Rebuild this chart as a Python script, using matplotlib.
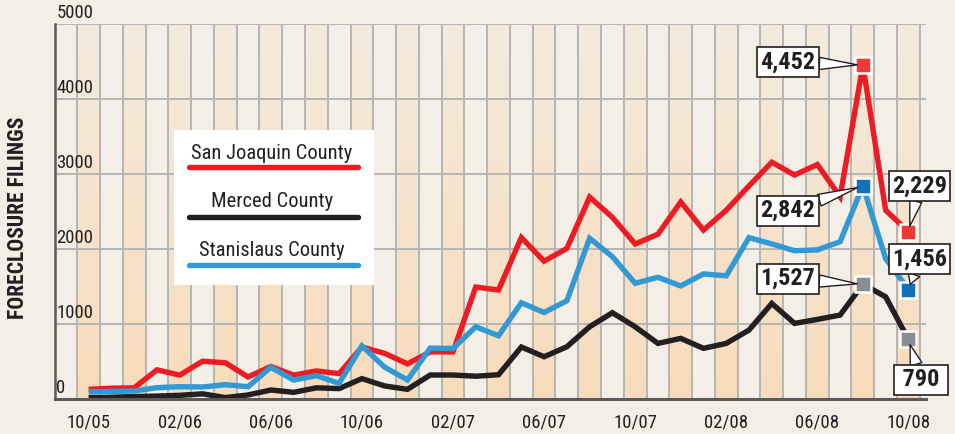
import numpy as np
import matplotlib
matplotlib.use("Agg")
import matplotlib.pyplot as plt
from matplotlib.colors import LinearSegmentedColormap
from matplotlib.patches import Rectangle
from matplotlib.lines import Line2D

NARROW = ["Roboto Condensed", "Liberation Sans Narrow", "Roboto", "DejaVu Sans"]

# monthly filings, 10/05 .. 10/08
tick_labels = ["10/05", "02/06", "06/06", "10/06", "02/07", "06/07",
               "10/07", "02/08", "06/08", "10/08"]
san_joaquin = [125, 140, 145, 385, 315, 500, 480, 290, 430, 315, 370, 335, 690,
               605, 465, 625, 625, 1490, 1450, 2150, 1835, 2005, 2690, 2420, 2065,
               2195, 2625, 2250, 2515, 2840, 3155, 2985, 3125, 2695, 4452, 2515, 2229]
merced = [13, 20, 28, 35, 45, 65, 15, 50, 116, 85, 145, 135, 268,
          170, 125, 316, 316, 300, 320, 690, 560, 693, 960, 1147, 960,
          738, 805, 672, 738, 916, 1271, 1005, 1058, 1116, 1527, 1360, 790]
stanislaus = [90, 98, 103, 147, 160, 156, 187, 160, 419, 249, 307, 205, 705,
              420, 250, 675, 670, 960, 840, 1280, 1150, 1307, 2140, 1895, 1540,
              1620, 1505, 1665, 1640, 2150, 2065, 1975, 1985, 2095, 2842, 1870, 1456]
names = ["San Joaquin County", "Merced County", "Stanislaus County"]

BG, PEACH, GRID, AXIS = "#f3efe7", "#f8dcbb", "#b5b5b5", "#5a5a5a"
RED, BLACK, BLUE = "#ed1c24", "#231f20", "#3399d5"
RED_M, BLUE_M, GREY_M = "#ee3a36", "#1370bb", "#8c8d90"
INK = "#231f20"

fig = plt.figure(figsize=(9.55, 4.34), dpi=100, facecolor=BG)
ax = fig.add_axes([54.5 / 955, 35.3 / 434, 871 / 955, 374.7 / 434])
ax.set_facecolor(BG)
n = len(san_joaquin)
x = np.arange(n)

# shaded month columns, fading toward the top
grad = np.linspace(0, 1, 256).reshape(-1, 1)
cmap = LinearSegmentedColormap.from_list("stripe", [PEACH, "#f4ebdd"])
for k in range(0, n, 2):
    ax.imshow(grad, extent=(k - 0.5, k + 0.5, 0, 5000), origin="lower",
              cmap=cmap, aspect="auto", zorder=0, interpolation="bilinear")

ax.vlines(np.arange(-0.5, n), 0, 5000, color=GRID, lw=1.4, zorder=1)
ax.hlines(np.arange(1000, 5001, 1000), -1.5, n - 0.25, color=GRID, lw=1.4, zorder=1)
ax.set_xlim(-1.5, n - 0.25)
ax.set_ylim(0, 5000)

for s in ("top", "right"):
    ax.spines[s].set_visible(False)
ax.spines["left"].set_color(AXIS); ax.spines["left"].set_linewidth(1.8)
ax.spines["bottom"].set_color(AXIS); ax.spines["bottom"].set_linewidth(2.2)
ax.spines["left"].set_zorder(2); ax.spines["bottom"].set_zorder(6)

ax.set_yticks([])
for v in range(0, 5001, 1000):
    ax.text(-1.42, v + 25, str(v), ha="left", va="bottom", fontsize=13.5,
            family=NARROW, color=INK)
ax.set_xticks(x[::4], tick_labels)
ax.tick_params(axis="x", length=0, pad=10.5, labelsize=13.5, labelcolor=INK)
for lab in ax.get_xticklabels():
    lab.set_family(NARROW)

ax.set_ylabel("FORECLOSURE FILINGS", family=NARROW, fontweight="bold",
              fontsize=15.5, color=INK)
ax.yaxis.set_label_coords(-0.029, 0.482)

series = [(san_joaquin, RED, RED_M), (merced, BLACK, GREY_M), (stanislaus, BLUE, BLUE_M)]
for vals, color, _ in series:
    ax.plot(x, vals, color=color, lw=3.9, solid_joinstyle="miter",
            solid_capstyle="butt", zorder=3, clip_on=False)

# legend panel
ax.add_patch(Rectangle((0.137, 0.3034), 0.230, 0.4136, transform=ax.transAxes,
                       facecolor="white", edgecolor="none", zorder=4))
for (vals, color, _), name, ty, ly in zip(series, names,
                                          [0.6557, 0.5276, 0.3968],
                                          [0.6184, 0.4850, 0.3562]):
    ax.text(0.2497, ty, name, transform=ax.transAxes, ha="center", va="center",
            fontsize=14.8, family=NARROW, color=INK, zorder=5)
    ax.add_line(Line2D([0.1544, 0.3485], [ly, ly], transform=ax.transAxes,
                       color=color, lw=3.9, solid_capstyle="round", zorder=5))

# highlighted values: peak month and latest month
peak = 34
last = n - 1
callouts = [
    (san_joaquin, RED_M, peak, (-54, 2)),
    (stanislaus, BLUE_M, peak, (-54, -18)),
    (merced, GREY_M, peak, (-54, 4)),
    (san_joaquin, RED_M, last, (8, 33)),
    (stanislaus, BLUE_M, last, (8, 22)),
    (merced, GREY_M, last, (9, -29)),
]
for vals, mcol, i, off in callouts:
    ax.plot(i, vals[i], marker="s", ms=11.5, mfc=mcol, mec="white", mew=1.8,
            zorder=7, clip_on=False)
    label = f"{vals[i]:,}"
    if len(label) < 4:
        label = f" {label} "
    ax.annotate(label, (i, vals[i]), xytext=off, textcoords="offset points",
                ha="center", va="center", fontsize=17.5, fontweight="bold",
                family=NARROW, color=INK, zorder=8,
                bbox=dict(boxstyle="square,pad=0.14", fc="white", ec=INK, lw=1.2),
                arrowprops=dict(arrowstyle="wedge,tail_width=0.5,shrink_factor=0.5",
                                fc="white", ec=INK, lw=1.0,
                                shrinkA=0, shrinkB=4))

fig.savefig("out.png", dpi=100, facecolor=BG)
